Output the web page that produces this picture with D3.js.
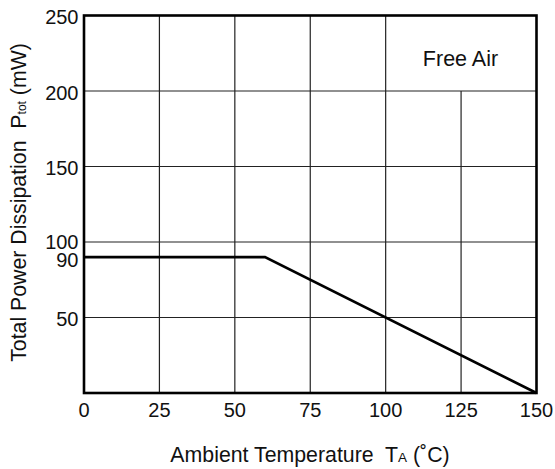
<!DOCTYPE html>
<html><head><meta charset="utf-8">
<script src="https://cdn.jsdelivr.net/npm/d3@7"></script>
<style>body{margin:0;background:#fff}text{font-family:"Liberation Sans",Arial,sans-serif;fill:#111;white-space:pre}</style>
</head><body><svg id="c" width="555" height="469"></svg>
<script>
const temps = [0, 60, 150];
const power = [90, 90, 0];
const xTicks = [0, 25, 50, 75, 100, 125, 150];
const yTicks = [50, 90, 100, 150, 200, 250];
const yGrid = [50, 100, 150, 200];
const xGridFull = [25, 50, 75, 100];
const xGridPartial = [125];

const svg = d3.select("#c");
const L = 84, R = 536.5, T = 15.5, B = 393;
const x = d3.scaleLinear().domain([0, 150]).range([L, R]);
const y = d3.scaleLinear().domain([0, 250]).range([B, T]);

const g = svg.append("g");
g.selectAll(".hg").data(yGrid).enter().append("line")
  .attr("x1", L).attr("x2", R).attr("y1", d => y(d)).attr("y2", d => y(d))
  .attr("stroke", "#222").attr("stroke-width", 1.2);
g.selectAll(".vg").data(xGridFull).enter().append("line")
  .attr("x1", d => x(d)).attr("x2", d => x(d)).attr("y1", T).attr("y2", B)
  .attr("stroke", "#222").attr("stroke-width", 1.2);
g.selectAll(".vp").data(xGridPartial).enter().append("line")
  .attr("x1", d => x(d)).attr("x2", d => x(d)).attr("y1", y(200)).attr("y2", B)
  .attr("stroke", "#222").attr("stroke-width", 1.2);

// data line
const pts = temps.map((t, i) => [t, power[i]]);
g.append("path").datum(pts)
  .attr("d", d3.line().x(d => x(d[0])).y(d => y(d[1])))
  .attr("fill", "none").attr("stroke", "#000").attr("stroke-width", 2.6);

// frame
g.append("rect").attr("x", L).attr("y", T).attr("width", R - L).attr("height", B - T)
  .attr("fill", "none").attr("stroke", "#000").attr("stroke-width", 2.6);

// y tick labels
const yShift = {100: -2, 90: 1.5};
g.selectAll(".yl").data(yTicks).enter().append("text")
  .attr("x", 78.5).attr("y", d => y(d) + 1.5 + (yShift[d] || 0)).attr("dy", "0.35em")
  .attr("text-anchor", "end").attr("font-size", 20).text(d => d);

// x tick labels
g.selectAll(".xl").data(xTicks).enter().append("text")
  .attr("x", d => x(d)).attr("y", 417)
  .attr("text-anchor", "middle").attr("font-size", 20).text(d => d);

// Free Air
g.append("text").attr("x", 460.5).attr("y", 66).attr("text-anchor", "middle")
  .attr("font-size", 21.5).text("Free Air");

// x title
const xt = g.append("text").attr("x", 310).attr("y", 462).attr("text-anchor", "middle").attr("font-size", 21.3);
xt.append("tspan").text("Ambient Temperature  T");
xt.append("tspan").attr("font-size", 13.5).text("A");
xt.append("tspan").text(" (˚C)");

// y title
const yt = g.append("text").attr("transform", "translate(26,202.5) rotate(-90)")
  .attr("text-anchor", "middle").attr("font-size", 21.3);
yt.append("tspan").text("Total Power Dissipation  P");
yt.append("tspan").attr("font-size", 12).text("tot");
yt.append("tspan").text(" (mW)");
</script></body></html>
